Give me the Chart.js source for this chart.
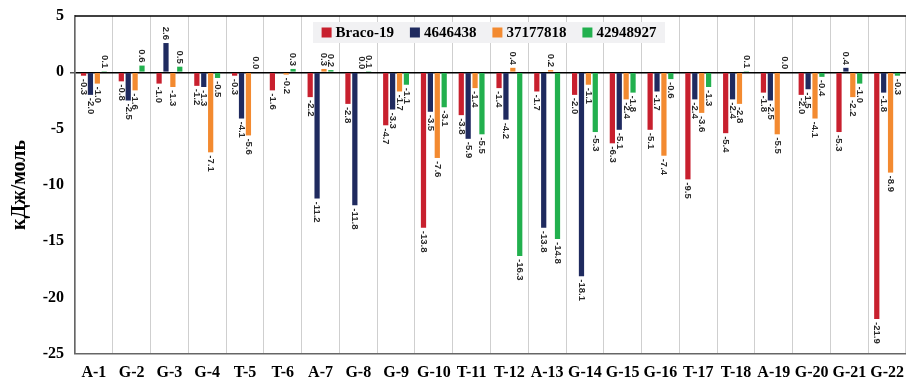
<!DOCTYPE html>
<html>
<head>
<meta charset="utf-8">
<script src="https://cdn.jsdelivr.net/npm/chart.js@4.4.0/dist/chart.umd.min.js"></script>
<style>
  html, body { margin: 0; padding: 0; background: #fff; }
  #wrap { width: 913px; height: 379px; }
</style>
</head>
<body>
<div id="wrap"><canvas id="chart" width="913" height="379"></canvas></div>
<script>
const categories = ['A-1', 'G-2', 'G-3', 'G-4', 'T-5', 'T-6', 'A-7', 'G-8', 'G-9', 'G-10', 'T-11',
  'T-12', 'A-13', 'G-14', 'G-15', 'G-16', 'T-17', 'T-18', 'A-19', 'G-20', 'G-21', 'G-22'];

const braco19 = [-0.3, -0.8, -1.0, -1.2, -0.3, -1.6, -2.2, -2.8, -4.7, -13.8, -3.8,
  -1.4, -1.7, -2.0, -6.3, -5.1, -9.5, -5.4, -1.8, -2.0, -5.3, -21.9];
const s4646438 = [-2.0, -2.5, 2.6, -1.3, -4.1, null, -11.2, -11.8, -3.3, -3.5, -5.9,
  -4.2, -13.8, -18.1, -5.1, -1.7, -2.4, -2.4, -2.5, -1.5, 0.4, -1.8];
const s37177818 = [-1.0, -1.6, -1.3, -7.1, -5.6, -0.2, 0.3, 0.0, -1.7, -7.6, -1.4,
  0.4, 0.2, -1.1, -2.4, -7.4, -3.6, -2.8, -5.5, -4.1, -2.2, -8.9];
const s42948927 = [0.1, 0.6, 0.5, -0.5, 0.0, 0.3, 0.2, 0.1, -1.1, -3.1, -5.5,
  -16.3, -14.8, -5.3, -1.8, -0.6, -1.3, 0.1, 0.0, -0.4, -1.0, -0.3];

const seriesNames = ['Braco-19', '4646438', '37177818', '42948927'];
const seriesColors = ['#C8202E', '#1F2A5F', '#F38A30', '#22B04E'];
const yMin = -25, yMax = 5, yStep = 5;

const serif = "'Liberation Serif', 'Times New Roman', serif";

// value labels, rotated, just past the end of each bar
const barLabels = {
  id: 'barLabels',
  afterDatasetsDraw(chart) {
    const ctx = chart.ctx;
    ctx.save();
    ctx.font = "bold 9.5px 'Liberation Sans', Arial, sans-serif";
    ctx.fillStyle = '#2a2a2a';
    ctx.textBaseline = 'middle';
    chart.data.datasets.forEach((ds, i) => {
      chart.getDatasetMeta(i).data.forEach((bar, j) => {
        const v = ds.data[j];
        if (v === null || v === undefined) return;
        const neg = v < 0;
        ctx.save();
        ctx.translate(bar.x, neg ? bar.y + 3 : bar.y - 3);
        ctx.rotate(Math.PI / 2);
        ctx.textAlign = neg ? 'left' : 'right';
        ctx.fillText(v.toFixed(1), 0, 0);
        ctx.restore();
      });
    });
    ctx.restore();
  }
};

// top frame line and legend box
const frame = {
  id: 'frame',
  afterDraw(chart) {
    const ctx = chart.ctx;
    const a = chart.chartArea;
    ctx.save();
    ctx.strokeStyle = '#000';
    ctx.lineWidth = 1.5;
    ctx.beginPath();
    ctx.moveTo(a.left, a.top);
    ctx.lineTo(a.right, a.top);
    ctx.stroke();

    // legend
    const boxX = 313, boxY = 22, boxW = 352, boxH = 21;
    ctx.fillStyle = '#F1F1F3';
    ctx.fillRect(boxX, boxY, boxW, boxH);
    ctx.font = 'bold 15px ' + serif;
    ctx.textBaseline = 'middle';
    ctx.textAlign = 'left';
    const sq = 10, gapSq = 4, gapItem = 16;
    const widths = seriesNames.map(n => ctx.measureText(n).width);
    const total = widths.reduce((s, w) => s + sq + gapSq + w, 0) + gapItem * (seriesNames.length - 1);
    let x = boxX + (boxW - total) / 2;
    const cy = boxY + boxH / 2;
    seriesNames.forEach((n, i) => {
      ctx.fillStyle = seriesColors[i];
      ctx.fillRect(x, cy - sq / 2, sq, sq);
      x += sq + gapSq;
      ctx.fillStyle = '#000';
      ctx.fillText(n, x, cy + 1);
      x += widths[i] + gapItem;
    });
    ctx.restore();
  }
};

const allSeries = [braco19, s4646438, s37177818, s42948927];

new Chart(document.getElementById('chart'), {
  type: 'bar',
  data: {
    labels: categories,
    datasets: allSeries.map((d, i) => ({
      label: seriesNames[i],
      data: d,
      backgroundColor: seriesColors[i],
      borderWidth: 0,
      categoryPercentage: 0.73,
      barPercentage: 0.76
    }))
  },
  options: {
    responsive: false,
    animation: false,
    devicePixelRatio: 1,
    layout: { padding: { top: 16, right: 0, left: 0, bottom: 0 } },
    plugins: {
      legend: { display: false },
      tooltip: { enabled: false }
    },
    scales: {
      x: {
        grid: { color: '#CFCFCF', lineWidth: 1, offset: true, drawTicks: false },
        border: { display: true, color: '#666', width: 1.5 },
        ticks: {
          color: '#000',
          padding: 9,
          maxRotation: 0,
          autoSkip: false,
          font: { family: serif, size: 16, weight: 'bold' }
        },
        afterFit(s) { s.height = 25; }
      },
      y: {
        min: yMin,
        max: yMax,
        ticks: {
          stepSize: yStep,
          color: '#000',
          padding: 6,
          font: { family: serif, size: 16, weight: 'bold' }
        },
        grid: {
          color: c => c.tick && c.tick.value === 0 ? '#000' : 'rgba(0,0,0,0)',
          lineWidth: c => c.tick && c.tick.value === 0 ? 1.5 : 0,
          tickColor: '#555',
          tickLength: 5,
          drawTicks: true
        },
        border: { display: true, color: '#666', width: 1.5 },
        title: {
          display: true,
          text: 'кДж/моль',
          color: '#000',
          padding: { top: 8, bottom: 0 },
          font: { family: serif, size: 20, weight: 'bold' }
        },
        afterFit(s) { s.width = 75; }
      }
    }
  },
  plugins: [barLabels, frame]
});
</script>
</body>
</html>
